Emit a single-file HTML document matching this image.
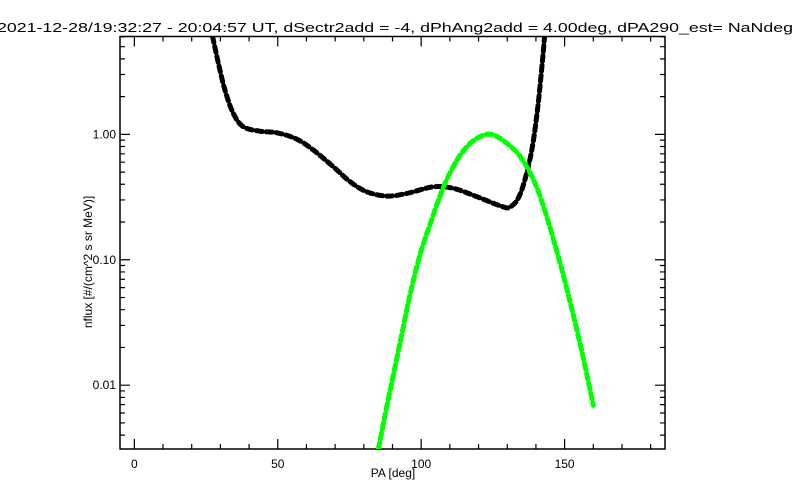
<!DOCTYPE html>
<html><head><meta charset="utf-8"><style>body{margin:0;background:#fff}svg{display:block;font-family:"Liberation Sans",sans-serif}</style></head>
<body>
<svg id="chart" width="800" height="500" viewBox="0 0 800 500">
<rect width="800" height="500" fill="#fff"/>
<text x="-3" y="32" font-size="13" textLength="796" lengthAdjust="spacingAndGlyphs">2021-12-28/19:32:27 - 20:04:57 UT, dSectr2add = -4, dPhAng2add = 4.00deg, dPA290_est=    NaNdeg</text>
<g id="axes"></g>
<g id="series"></g>
<text x="393" y="477" font-size="12" text-anchor="middle">PA [deg]</text>
<text transform="translate(92,262) rotate(-90)" font-size="12" text-anchor="middle">nflux [#/(cm^2 s sr MeV)]</text>
</svg>
<script>
const blackPA=[27.3,29.3,31.6,34.5,38.0,43.8,49.7,56.6,62.4,69.4,75.3,81.1,88.1,95.0,104.3,111.3,119.5,127.6,131.1,134.6,138.1,140.4,142.2,143.0];
const blackFlux=[6.0,3.69,2.25,1.47,1.15,1.06,1.03,0.917,0.75,0.551,0.418,0.348,0.322,0.338,0.382,0.371,0.318,0.269,0.264,0.338,0.662,1.47,3.69,6.0];
const greenPA=[85.1,87.5,90.4,93.3,96.2,99.7,103.2,107.8,112.5,117.1,121.8,125.3,129.9,134.6,139.2,142.7,146.2,149.7,153.2,156.7,160.0];
const greenFlux=[0.00312,0.00593,0.0124,0.0258,0.0538,0.112,0.195,0.382,0.624,0.848,0.987,0.987,0.848,0.663,0.432,0.264,0.143,0.0731,0.035,0.0158,0.00691];
const xTicks=[0,50,100,150];
const yTicks=[0.01,0.1,1];
const yTickLabels=["0.01","0.10","1.00"];

const L=120,R=665,T=36.5,B=449;
const XMIN=-5,XMAX=185,YMIN=Math.log10(0.0031),YMAX=Math.log10(6.03);
const sx=v=>L+(v-XMIN)/(XMAX-XMIN)*(R-L);
const sy=v=>B-(Math.log10(v)-YMIN)/(YMAX-YMIN)*(B-T);
const NS="http://www.w3.org/2000/svg";
const ax=document.getElementById('axes'),se=document.getElementById('series');
function mk(t,p,a){const e=document.createElementNS(NS,t);for(const k in a)e.setAttribute(k,a[k]);p.appendChild(e);return e;}
const frame=mk('rect',ax,{x:L,y:T,width:R-L,height:B-T,fill:'none',stroke:'#000','stroke-width':1.5});


let d='';
for(let v=0;v<=180;v+=10){const x=sx(v),len=v%50===0?10:5;d+=`M${x} ${B}v${-len}M${x} ${T}v${len}`;}
for(let e=-3;e<=0;e++)for(let m=1;m<=9;m++){const v=m*Math.pow(10,e);if(v<0.0031||v>6.03)continue;const y=sy(v),len=m===1?10:5;d+=`M${L} ${y}h${len}M${R} ${y}h${-len}`;}
const tk=mk('path',ax,{d:d,stroke:'#000','stroke-width':1.2,fill:'none'});


xTicks.forEach(v=>{const t=mk('text',ax,{x:sx(v),y:468,'font-size':12,'text-anchor':'middle'});t.textContent=String(v);

});
yTicks.forEach((v,i)=>{const t=mk('text',ax,{x:116,y:sy(v)+4,'font-size':12,'text-anchor':'end'});t.textContent=yTickLabels[i];

});
function pathFor(xs,ys){const p=xs.map((x,i)=>[sx(x),sy(ys[i])]);let s=`M${p[0][0]} ${p[0][1]}`;
for(let i=0;i<p.length-1;i++){const p0=p[i-1]||p[i],p1=p[i],p2=p[i+1],p3=p[i+2]||p2;
s+=`C${p1[0]+(p2[0]-p0[0])/6} ${p1[1]+(p2[1]-p0[1])/6} ${p2[0]-(p3[0]-p1[0])/6} ${p2[1]-(p3[1]-p1[1])/6} ${p2[0]} ${p2[1]}`;}return s;}
const cp=mk('clipPath',se,{id:'clip'});mk('rect',cp,{x:L,y:T,width:R-L,height:B-T});
const bl=mk('path',se,{d:pathFor(blackPA,blackFlux),fill:'none',stroke:'#000','stroke-width':5,'stroke-dasharray':'6 4','stroke-linecap':'round','clip-path':'url(#clip)'});


const gr=mk('path',se,{d:pathFor(greenPA,greenFlux),fill:'none',stroke:'#00ff00','stroke-width':5,'stroke-dasharray':'6 4','stroke-linecap':'round','clip-path':'url(#clip)'});


</script>
</body></html>
